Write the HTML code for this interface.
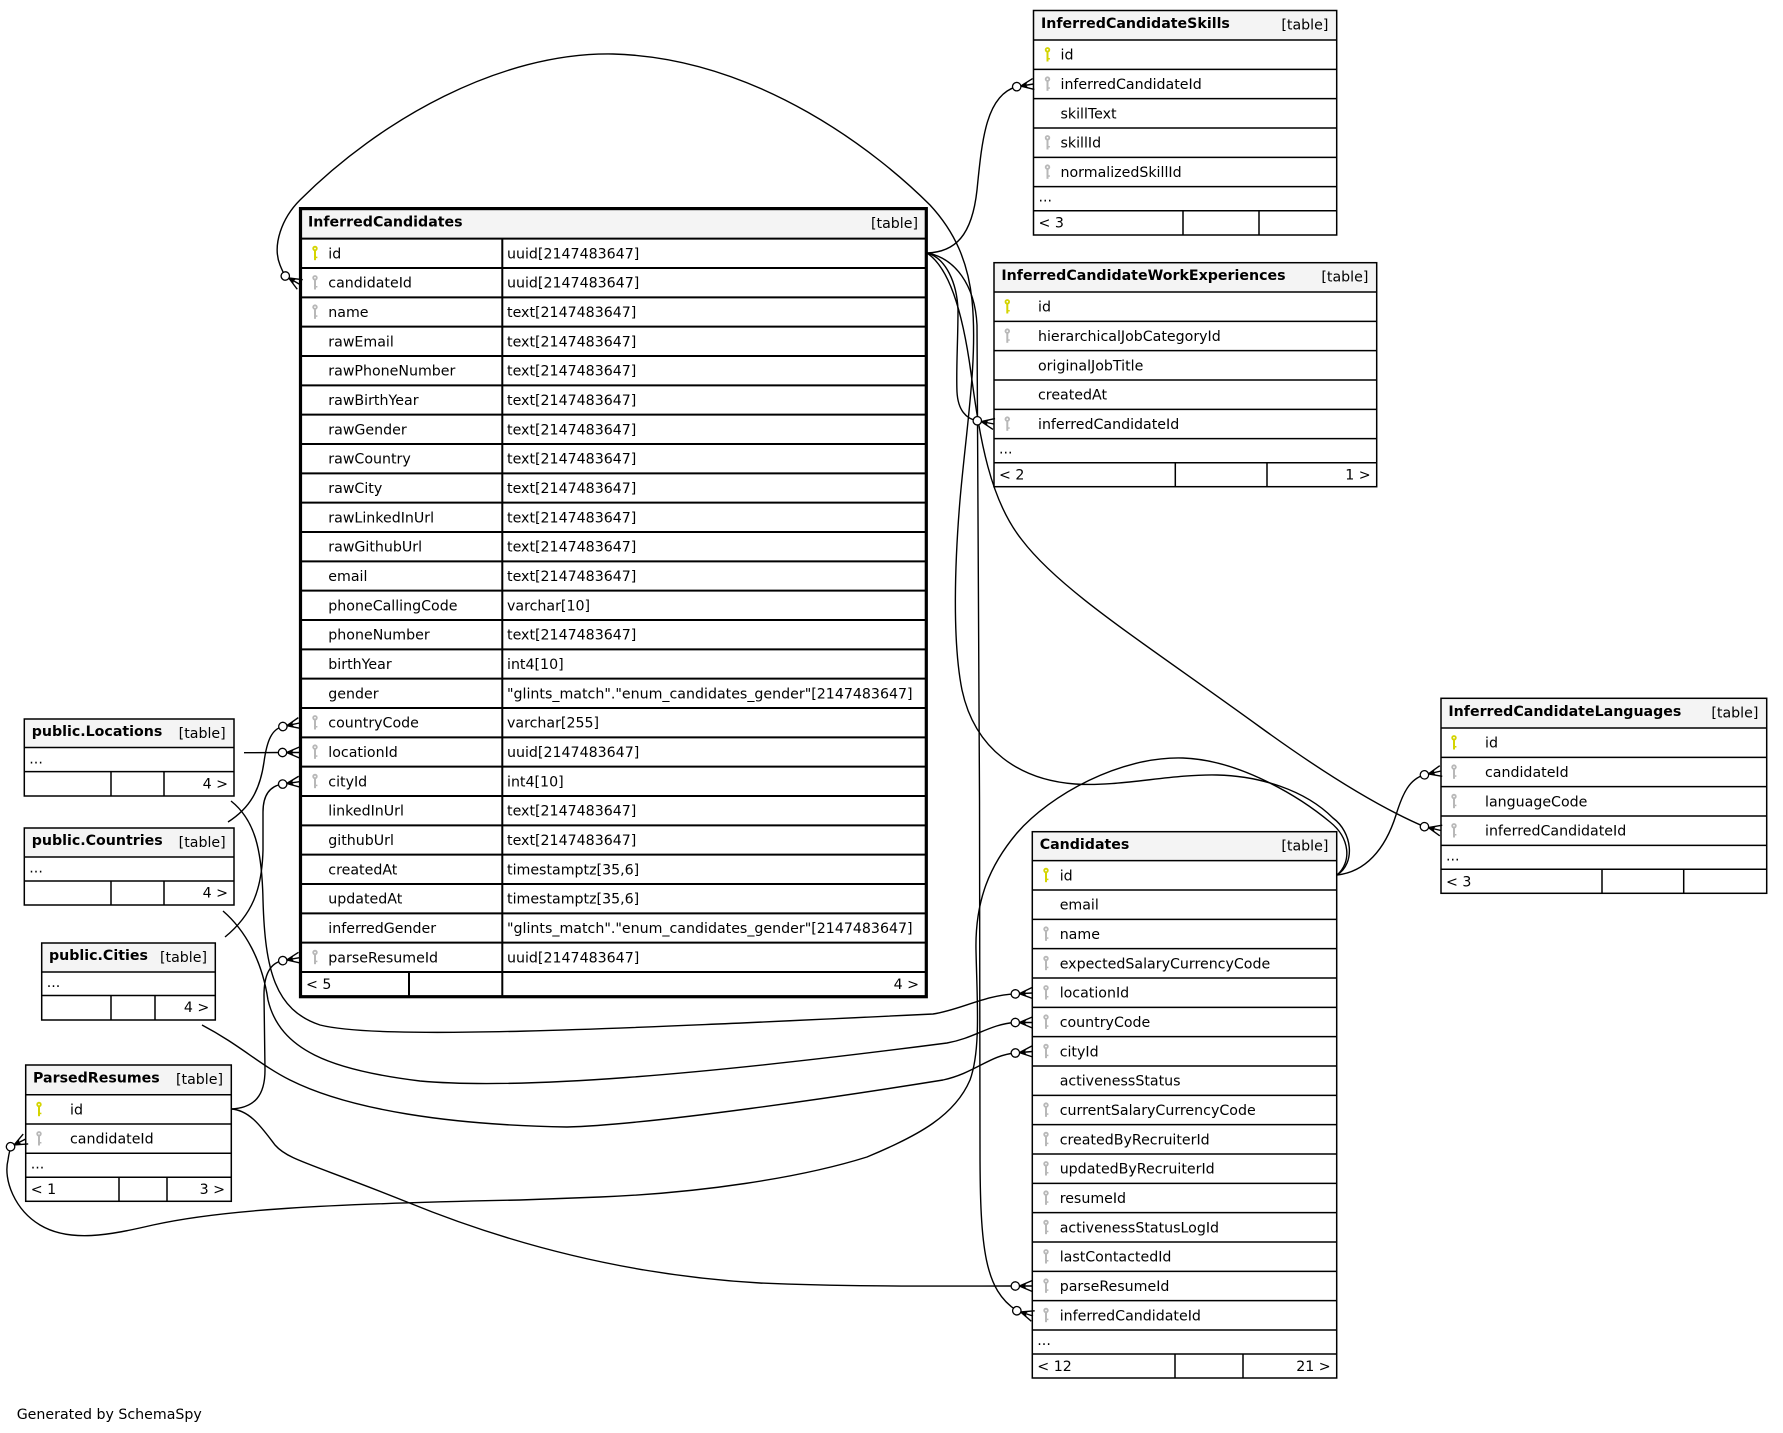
<!DOCTYPE html>
<html><head><meta charset="utf-8"><style>
html,body{margin:0;padding:0;background:#fff}
svg{display:block}
text{font-family:"DejaVu Sans","Liberation Sans",sans-serif;font-size:14.2px;fill:#000}
.b{font-weight:bold}
.r{text-anchor:end}
.t{fill:none;stroke:#000;stroke-width:1.5}
.T{fill:none;stroke:#000;stroke-width:2}
.e{fill:none;stroke:#000;stroke-width:1.4}
.h{fill:#f4f4f4}
</style></head><body>
<svg width="1783" height="1433" viewBox="0 0 1783 1433" xmlns="http://www.w3.org/2000/svg">
<defs>
<g id="kp"><circle cx="0" cy="2.8" r="2.7" fill="#d4d400"/><circle cx="0" cy="2.8" r="0.9" fill="#fff"/><rect x="-1" y="4.5" width="2" height="10" fill="#d4d400"/><rect x="0.8" y="11" width="1.6" height="1.5" fill="#d4d400"/></g>
<g id="kf"><circle cx="0" cy="2.8" r="2.7" fill="#b8b8b8"/><circle cx="0" cy="2.8" r="0.9" fill="#fff"/><rect x="-1" y="4.5" width="2" height="10" fill="#b8b8b8"/><rect x="0.8" y="11" width="1.6" height="1.5" fill="#b8b8b8"/></g>
<g id="cr"><path d="M-13,0 L0,-5.5 M-13,0 L0,0 M-13,0 L0,5.5" stroke="#000" stroke-width="1.4" fill="none"/><path d="M-13.5,0 L-5.5,-3.4 L-7.5,0 L-5.5,3.4Z" fill="#000"/><circle cx="-17" cy="0" r="4.2" fill="#fff" stroke="#000" stroke-width="1.3"/></g>
</defs>
<rect width="1783" height="1433" fill="#fff"/>

<!-- ===== EDGES ===== -->
<path class="e" d="M927,253 C955,252 972,236 977,190 C982,140 986,95 1016.7,86.7"/>
<path class="e" d="M927,253 C946,258 957,283 958,310 C958,340 956,370 957,392 C958,410 966,419 977.3,420.8"/>
<path class="e" d="M927,253 C955,258 975,285 977,325 C979,500 980,900 980,1150 C980,1250 985,1290 1016.8,1310.7"/>
<path class="e" d="M927,253 C948,267 962,307 971,373 C980,440 990,500 1022,540 C1060,590 1140,640 1260,727 C1340,785 1390,812 1424.4,826.7"/>
<path class="e" d="M1337,875 C1356,863 1352,832 1333,818 C1305,790 1260,776 1217,775 C1170,774 1120,787 1075,784 C1020,780 975,750 962,690 C952,640 955,560 960,500 C966,430 978,360 972,300 C968,262 955,232 930,205 C880,155 760,58 613,54 C500,52 380,120 300,200 C282,218 272,245 280,265 C282,270 284,274 285.3,276"/>
<path class="e" d="M1337,875 C1352,862 1350,838 1330,822 C1300,797 1240,760 1183,758 C1120,756 1050,795 1017,833 C990,865 975,900 976,950 C977,1000 981,1050 970,1080 C955,1115 920,1135 867,1157 C800,1178 700,1193 600,1197 L520,1200 C320,1204 220,1210 153,1225 C110,1235 70,1243 40,1225 C15,1210 3,1180 8,1160 C9,1153 10,1149 11.3,1146.7"/>
<path class="e" d="M1337,875 C1365,872 1385,850 1396,815 C1403,792 1410,779 1424.4,774.8"/>
<path class="e" d="M231,1109 C255,1108 265,1095 265,1070 L264,995 C264,975 270,963 282.8,960.6"/>
<path class="e" d="M231,1109 C250,1110 262,1128 275,1145 C288,1160 310,1163 407,1202 C500,1240 620,1275 760,1283 C850,1287 950,1286 1015.3,1286"/>
<path class="e" d="M244,752.7 L282.5,752.5"/>
<path class="e" d="M228,822 C250,808 260,790 264,762 C267,740 272,729 282.9,726.5"/>
<path class="e" d="M225,937 C252,915 262,890 263,850 L263,812 C263,795 270,786 282.7,784.1"/>
<path class="e" d="M231,801 C255,820 262,850 263,900 C265,970 275,1010 320,1025 C380,1040 600,1030 933,1014 C960,1010 985,995 1015.3,993.9"/>
<path class="e" d="M223,911 C245,930 262,960 268,1000 C280,1050 330,1070 420,1081 C520,1090 700,1075 947,1043 C975,1038 990,1024 1015.3,1022.5"/>
<path class="e" d="M202,1025 C240,1045 260,1065 290,1080 C350,1110 450,1125 567,1127 C650,1125 850,1095 943,1080 C975,1073 990,1055 1015.4,1053"/>

<!-- ===== InferredCandidateSkills ===== -->
<rect class="h" x="1033.5" y="10.5" width="303.2" height="29.5"/>
<rect class="t" x="1033.5" y="10.5" width="303.2" height="224.5"/>
<path class="t" d="M1033.5,40H1336.7M1033.5,69.33H1336.7M1033.5,98.67H1336.7M1033.5,128H1336.7M1033.5,157.33H1336.7M1033.5,186.67H1336.7M1033.5,210.7H1336.7M1183,210.7V235M1259,210.7V235"/>
<text class="b" x="1041" y="28">InferredCandidateSkills</text><text class="r" x="1328.4" y="29.5">[table]</text>
<use href="#kp" x="1047.5" y="47"/><text x="1060.5" y="59.6">id</text>
<use href="#kf" x="1047.5" y="76.3"/><text x="1060.5" y="88.9">inferredCandidateId</text>
<text x="1060.5" y="118.3">skillText</text>
<use href="#kf" x="1047.5" y="135"/><text x="1060.5" y="147.6">skillId</text>
<use href="#kf" x="1047.5" y="164.3"/><text x="1060.5" y="176.9">normalizedSkillId</text>
<text x="1038.5" y="201.7">...</text>
<text x="1038.5" y="227.7">&lt; 3</text>

<!-- ===== InferredCandidateWorkExperiences ===== -->
<rect class="h" x="994" y="262.7" width="382.7" height="29.3"/>
<rect class="t" x="994" y="262.7" width="382.7" height="224"/>
<path class="t" d="M994,292H1376.7M994,321.33H1376.7M994,350.67H1376.7M994,380H1376.7M994,409.33H1376.7M994,438.67H1376.7M994,462.7H1376.7M1175.3,462.7V486.7M1267,462.7V486.7"/>
<text class="b" x="1001.4" y="280.2">InferredCandidateWorkExperiences</text><text class="r" x="1368.4" y="281.7">[table]</text>
<use href="#kp" x="1007.3" y="299"/><text x="1038" y="311.6">id</text>
<use href="#kf" x="1007.3" y="328.3"/><text x="1038" y="340.9">hierarchicalJobCategoryId</text>
<text x="1038" y="370.3">originalJobTitle</text>
<text x="1038" y="399.6">createdAt</text>
<use href="#kf" x="1007.3" y="416.3"/><text x="1038" y="428.9">inferredCandidateId</text>
<text x="999" y="453.7">...</text>
<text x="999" y="479.7">&lt; 2</text><text class="r" x="1370.7" y="479.7">1 &gt;</text>

<!-- ===== InferredCandidateLanguages ===== -->
<rect class="h" x="1441" y="698.3" width="325.7" height="29.7"/>
<rect class="t" x="1441" y="698.3" width="325.7" height="195"/>
<path class="t" d="M1441,728H1766.7M1441,757.33H1766.7M1441,786.67H1766.7M1441,816H1766.7M1441,845.33H1766.7M1441,869.3H1766.7M1602,869.3V893.3M1683.7,869.3V893.3"/>
<text class="b" x="1448.4" y="715.8">InferredCandidateLanguages</text><text class="r" x="1758.4" y="717.3">[table]</text>
<use href="#kp" x="1454" y="735"/><text x="1485" y="747.6">id</text>
<use href="#kf" x="1454" y="764.3"/><text x="1485" y="776.9">candidateId</text>
<use href="#kf" x="1454" y="793.7"/><text x="1485" y="806.3">languageCode</text>
<use href="#kf" x="1454" y="823"/><text x="1485" y="835.6">inferredCandidateId</text>
<text x="1446" y="860.3">...</text>
<text x="1446" y="886.3">&lt; 3</text>

<!-- ===== Candidates ===== -->
<rect class="h" x="1032.3" y="831.7" width="304.4" height="29"/>
<rect class="t" x="1032.3" y="831.7" width="304.4" height="546.3"/>
<path class="t" d="M1032.3,860.67H1336.7M1032.3,890H1336.7M1032.3,919.33H1336.7M1032.3,948.67H1336.7M1032.3,978H1336.7M1032.3,1007.33H1336.7M1032.3,1036.67H1336.7M1032.3,1066H1336.7M1032.3,1095.33H1336.7M1032.3,1124.67H1336.7M1032.3,1154H1336.7M1032.3,1183.33H1336.7M1032.3,1212.67H1336.7M1032.3,1242H1336.7M1032.3,1271.33H1336.7M1032.3,1300.67H1336.7M1032.3,1330H1336.7M1032.3,1354H1336.7M1175,1354V1378M1243,1354V1378"/>
<text class="b" x="1039.7" y="849.2">Candidates</text><text class="r" x="1328.4" y="850.7">[table]</text>
<use href="#kp" x="1046" y="867.67"/><text x="1059.7" y="880.27">id</text>
<text x="1059.7" y="909.6">email</text>
<use href="#kf" x="1046" y="926.33"/><text x="1059.7" y="938.93">name</text>
<use href="#kf" x="1046" y="955.67"/><text x="1059.7" y="968.27">expectedSalaryCurrencyCode</text>
<use href="#kf" x="1046" y="985"/><text x="1059.7" y="997.6">locationId</text>
<use href="#kf" x="1046" y="1014.33"/><text x="1059.7" y="1026.93">countryCode</text>
<use href="#kf" x="1046" y="1043.67"/><text x="1059.7" y="1056.27">cityId</text>
<text x="1059.7" y="1085.6">activenessStatus</text>
<use href="#kf" x="1046" y="1102.33"/><text x="1059.7" y="1114.93">currentSalaryCurrencyCode</text>
<use href="#kf" x="1046" y="1131.67"/><text x="1059.7" y="1144.27">createdByRecruiterId</text>
<use href="#kf" x="1046" y="1161"/><text x="1059.7" y="1173.6">updatedByRecruiterId</text>
<use href="#kf" x="1046" y="1190.33"/><text x="1059.7" y="1202.93">resumeId</text>
<use href="#kf" x="1046" y="1219.67"/><text x="1059.7" y="1232.27">activenessStatusLogId</text>
<use href="#kf" x="1046" y="1249"/><text x="1059.7" y="1261.6">lastContactedId</text>
<use href="#kf" x="1046" y="1278.33"/><text x="1059.7" y="1290.93">parseResumeId</text>
<use href="#kf" x="1046" y="1307.67"/><text x="1059.7" y="1320.27">inferredCandidateId</text>
<text x="1037.3" y="1345">...</text>
<text x="1037.3" y="1371">&lt; 12</text><text class="r" x="1330.7" y="1371">21 &gt;</text>

<!-- ===== InferredCandidates (focus) ===== -->
<rect class="h" x="300.5" y="208.6" width="625.8" height="30"/>
<path class="T" d="M300.5,238.67H926.3M300.5,268H926.3M300.5,297.33H926.3M300.5,326.67H926.3M300.5,356H926.3M300.5,385.33H926.3M300.5,414.67H926.3M300.5,444H926.3M300.5,473.33H926.3M300.5,502.67H926.3M300.5,532H926.3M300.5,561.33H926.3M300.5,590.67H926.3M300.5,620H926.3M300.5,649.33H926.3M300.5,678.67H926.3M300.5,708H926.3M300.5,737.33H926.3M300.5,766.67H926.3M300.5,796H926.3M300.5,825.33H926.3M300.5,854.67H926.3M300.5,884H926.3M300.5,913.33H926.3M300.5,942.67H926.3M300.5,972H926.3M502.3,238.67V996.7M409,972V996.7"/>
<rect x="300.5" y="208.6" width="625.8" height="788.1" fill="none" stroke="#000" stroke-width="3.2"/>
<text class="b" x="308" y="226.7">InferredCandidates</text><text class="r" x="918" y="228">[table]</text>
<use href="#kp" x="315" y="245.67"/><text x="328.3" y="258.27">id</text><text x="507" y="258.27">uuid[2147483647]</text>
<use href="#kf" x="315" y="275"/><text x="328.3" y="287.6">candidateId</text><text x="507" y="287.6">uuid[2147483647]</text>
<use href="#kf" x="315" y="304.33"/><text x="328.3" y="316.93">name</text><text x="507" y="316.93">text[2147483647]</text>
<text x="328.3" y="346.27">rawEmail</text><text x="507" y="346.27">text[2147483647]</text>
<text x="328.3" y="375.6">rawPhoneNumber</text><text x="507" y="375.6">text[2147483647]</text>
<text x="328.3" y="404.93">rawBirthYear</text><text x="507" y="404.93">text[2147483647]</text>
<text x="328.3" y="434.27">rawGender</text><text x="507" y="434.27">text[2147483647]</text>
<text x="328.3" y="463.6">rawCountry</text><text x="507" y="463.6">text[2147483647]</text>
<text x="328.3" y="492.93">rawCity</text><text x="507" y="492.93">text[2147483647]</text>
<text x="328.3" y="522.27">rawLinkedInUrl</text><text x="507" y="522.27">text[2147483647]</text>
<text x="328.3" y="551.6">rawGithubUrl</text><text x="507" y="551.6">text[2147483647]</text>
<text x="328.3" y="580.93">email</text><text x="507" y="580.93">text[2147483647]</text>
<text x="328.3" y="610.27">phoneCallingCode</text><text x="507" y="610.27">varchar[10]</text>
<text x="328.3" y="639.6">phoneNumber</text><text x="507" y="639.6">text[2147483647]</text>
<text x="328.3" y="668.93">birthYear</text><text x="507" y="668.93">int4[10]</text>
<text x="328.3" y="698.27">gender</text><text x="507" y="698.27">"glints_match"."enum_candidates_gender"[2147483647]</text>
<use href="#kf" x="315" y="715"/><text x="328.3" y="727.6">countryCode</text><text x="507" y="727.6">varchar[255]</text>
<use href="#kf" x="315" y="744.33"/><text x="328.3" y="756.93">locationId</text><text x="507" y="756.93">uuid[2147483647]</text>
<use href="#kf" x="315" y="773.67"/><text x="328.3" y="786.27">cityId</text><text x="507" y="786.27">int4[10]</text>
<text x="328.3" y="815.6">linkedInUrl</text><text x="507" y="815.6">text[2147483647]</text>
<text x="328.3" y="844.93">githubUrl</text><text x="507" y="844.93">text[2147483647]</text>
<text x="328.3" y="874.27">createdAt</text><text x="507" y="874.27">timestamptz[35,6]</text>
<text x="328.3" y="903.6">updatedAt</text><text x="507" y="903.6">timestamptz[35,6]</text>
<text x="328.3" y="932.93">inferredGender</text><text x="507" y="932.93">"glints_match"."enum_candidates_gender"[2147483647]</text>
<use href="#kf" x="315" y="949.67"/><text x="328.3" y="962.27">parseResumeId</text><text x="507" y="962.27">uuid[2147483647]</text>
<text x="306" y="989">&lt; 5</text><text class="r" x="919" y="989">4 &gt;</text>

<!-- ===== public.Locations ===== -->
<rect class="h" x="24.3" y="719" width="209.7" height="28.5"/>
<rect class="t" x="24.3" y="719" width="209.7" height="77"/>
<path class="t" d="M24.3,747.5H234M24.3,771.6H234M111,771.6V796M164,771.6V796"/>
<text class="b" x="31.7" y="736">public.Locations</text><text class="r" x="225.7" y="738">[table]</text>
<text x="29.3" y="763.5">...</text>
<text class="r" x="228" y="788.5">4 &gt;</text>

<!-- ===== public.Countries ===== -->
<rect class="h" x="24.3" y="828" width="209.7" height="29"/>
<rect class="t" x="24.3" y="828" width="209.7" height="77"/>
<path class="t" d="M24.3,857H234M24.3,881H234M111,881V905M164,881V905"/>
<text class="b" x="31.7" y="845">public.Countries</text><text class="r" x="225.7" y="847">[table]</text>
<text x="29.3" y="872.5">...</text>
<text class="r" x="228" y="897.5">4 &gt;</text>

<!-- ===== public.Cities ===== -->
<rect class="h" x="41.7" y="943" width="173.6" height="29"/>
<rect class="t" x="41.7" y="943" width="173.6" height="77"/>
<path class="t" d="M41.7,972H215.3M41.7,995.5H215.3M111,995.5V1020M155,995.5V1020"/>
<text class="b" x="49" y="960">public.Cities</text><text class="r" x="207" y="962">[table]</text>
<text x="46.7" y="987">...</text>
<text class="r" x="209.3" y="1012">4 &gt;</text>

<!-- ===== ParsedResumes ===== -->
<rect class="h" x="25.7" y="1065" width="205.6" height="29.7"/>
<rect class="t" x="25.7" y="1065" width="205.6" height="136.3"/>
<path class="t" d="M25.7,1094.7H231.3M25.7,1124H231.3M25.7,1153.3H231.3M25.7,1177.3H231.3M119,1177.3V1201.3M167,1177.3V1201.3"/>
<text class="b" x="33" y="1082.5">ParsedResumes</text><text class="r" x="223" y="1084">[table]</text>
<use href="#kp" x="39" y="1101.7"/><text x="70" y="1114.3">id</text>
<use href="#kf" x="39" y="1131"/><text x="70" y="1143.6">candidateId</text>
<text x="30.7" y="1168.3">...</text>
<text x="30.7" y="1194">&lt; 1</text><text class="r" x="225" y="1194">3 &gt;</text>

<!-- ===== ARROWHEADS (crow + circle) ===== -->
<use href="#cr" transform="translate(1033.5,84) rotate(-9)"/>
<use href="#cr" transform="translate(994,424) rotate(11)"/>
<use href="#cr" transform="translate(1033,1316) rotate(18)"/>
<use href="#cr" transform="translate(1441,830.5) rotate(13)"/>
<use href="#cr" transform="translate(1441,771) rotate(-13)"/>
<use href="#cr" transform="translate(300,284.5) rotate(30)"/>
<use href="#cr" transform="translate(25.7,1139) rotate(-27)"/>
<use href="#cr" transform="translate(299.5,957.7) rotate(-10)"/>
<use href="#cr" transform="translate(1032.3,1286) rotate(0)"/>
<use href="#cr" transform="translate(299.5,752.5) rotate(0)"/>
<use href="#cr" transform="translate(299.5,723) rotate(-12)"/>
<use href="#cr" transform="translate(299.5,781.7) rotate(-8)"/>
<use href="#cr" transform="translate(1032.3,993) rotate(-3)"/>
<use href="#cr" transform="translate(1032.3,1022.5) rotate(0)"/>
<use href="#cr" transform="translate(1032.3,1051.5) rotate(-5)"/>

<text x="16.7" y="1419">Generated by SchemaSpy</text>
</svg>
</body></html>
